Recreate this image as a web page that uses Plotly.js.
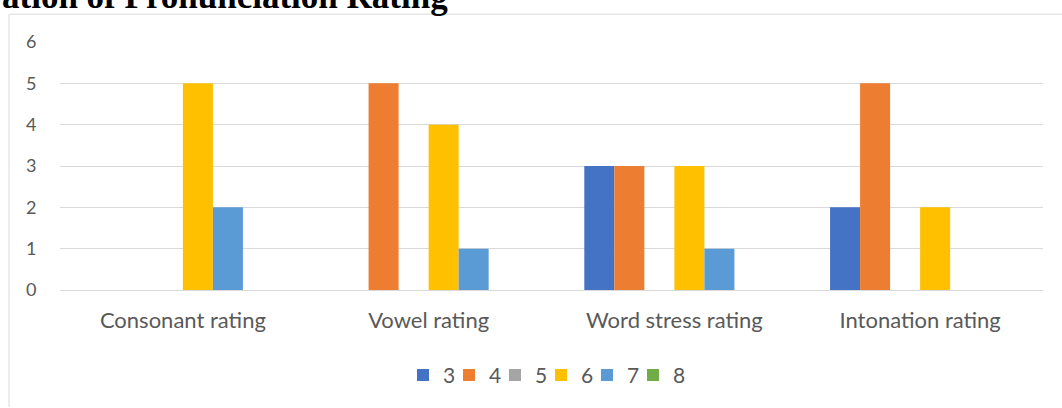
<!DOCTYPE html>
<html>
<head>
<meta charset="utf-8">
<script src="https://cdn.plot.ly/plotly-3.0.1.min.js"></script>
<style>html,body{margin:0;padding:0;background:#fff;}#chart{width:1062px;height:408px;}</style>
</head>
<body>
<div id="chart"></div>
<script>
var categories = ["Consonant rating", "Vowel rating", "Word stress rating", "Intonation rating"];
var seriesNames = ["3", "4", "5", "6", "7", "8"];
var s3 = [0, 0, 3, 2];
var s4 = [0, 5, 3, 5];
var s5 = [0, 0, 0, 0];
var s6 = [5, 4, 3, 2];
var s7 = [2, 1, 1, 0];
var s8 = [0, 0, 0, 0];
var colors = ["#4472C4", "#ED7D31", "#A5A5A5", "#FFC000", "#5B9BD5", "#70AD47"];
var yTicks = [0, 1, 2, 3, 4, 5, 6];

var values = [s3, s4, s5, s6, s7, s8];
var traces = values.map(function (v, i) {
  return {
    type: "bar",
    name: seriesNames[i],
    x: categories,
    y: v,
    marker: {color: colors[i], line: {width: 0}},
    hoverinfo: "x+y+name"
  };
});
// invisible spacer legend entry so the last legend label is not clipped
traces.push({
  type: "scatter", mode: "markers", name: " ",
  x: [categories[0]], y: [null],
  marker: {color: "rgba(0,0,0,0)", size: 1}, showlegend: true, hoverinfo: "skip"
});

var L = 60, R = 19, T = 42, B = 116, W = 1062, H = 408;
var pw = W - L - R, ph = H - T - B;
function px(x) { return (x - L) / pw; }
function py(y) { return (H - B - y) / ph; }

var layout = {
  width: W, height: H,
  margin: {l: L, r: R, t: T, b: B, pad: 0},
  paper_bgcolor: "#ffffff",
  plot_bgcolor: "#ffffff",
  barmode: "group",
  bargap: 0.267,
  bargroupgap: 0,
  font: {family: "Lato, sans-serif", color: "#595959"},
  xaxis: {
    type: "category",
    showgrid: false,
    zeroline: false,
    showline: false,
    ticks: "outside",
    ticklen: 11,
    tickcolor: "rgba(0,0,0,0)",
    tickfont: {size: 22, color: "#595959"},
    fixedrange: true
  },
  yaxis: {
    range: [0, 6],
    tickvals: yTicks,
    showgrid: true,
    gridcolor: "#d9d9d9",
    gridwidth: 1,
    zeroline: true,
    zerolinecolor: "#d9d9d9",
    zerolinewidth: 1,
    showline: false,
    ticks: "outside",
    ticklen: 19,
    tickcolor: "rgba(0,0,0,0)",
    tickfont: {size: 18, color: "#595959"},
    fixedrange: true
  },
  showlegend: true,
  legend: {
    orientation: "h",
    x: px(542 + 22), xanchor: "center",
    y: py(378), yanchor: "middle",
    font: {size: 21, color: "#595959"},
    itemwidth: 30,
    entrywidth: 1,
    entrywidthmode: "pixels",
    tracegroupgap: 0,
    traceorder: "normal",
    bgcolor: "rgba(0,0,0,0)"
  },
  shapes: [
    {type: "line", xref: "paper", yref: "paper", x0: px(9), x1: px(9), y0: py(14), y1: py(410), line: {color: "#d9d9d9", width: 1}},
    {type: "line", xref: "paper", yref: "paper", x0: px(9), x1: px(1064), y0: py(14), y1: py(14), line: {color: "#d9d9d9", width: 1}}
  ],
  annotations: [
    {
      text: "<b>ation of Pronunciation Rating</b>",
      xref: "paper", yref: "paper",
      x: px(0), xanchor: "left",
      y: py(18), yanchor: "bottom",
      showarrow: false,
      font: {family: "Liberation Serif, Times New Roman, serif", size: 35, color: "#000000"}
    }
  ]
};

Plotly.newPlot("chart", traces, layout, {displayModeBar: false, staticPlot: true});
</script>
</body>
</html>
